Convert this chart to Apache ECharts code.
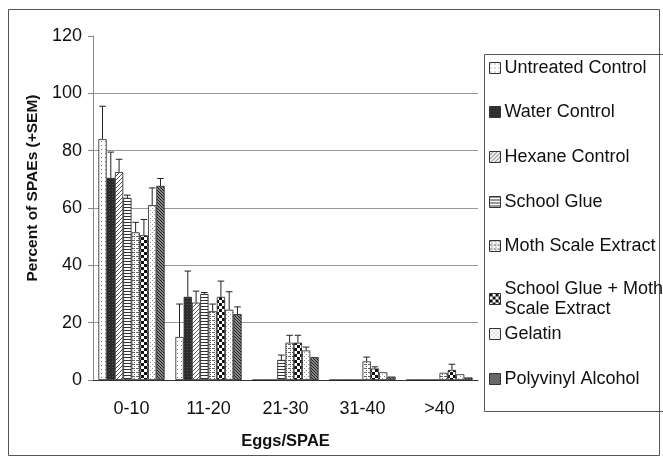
<!DOCTYPE html>
<html>
<head>
<meta charset="utf-8">
<script src="https://cdn.jsdelivr.net/npm/echarts@6/dist/echarts.min.js"></script>
<style>
html, body { margin: 0; padding: 0; background: #fff; }
#main { width: 663px; height: 458px; }
</style>
</head>
<body>
<div id="main"></div>
<script>
var categories = ['0-10', '11-20', '21-30', '31-40', '>40'];
var seriesNames = ['Untreated Control', 'Water Control', 'Hexane Control', 'School Glue',
	'Moth Scale Extract', 'School Glue + Moth\nScale Extract', 'Gelatin', 'Polyvinyl Alcohol'];

// percent of SPAEs per egg class
var untreated = [84, 15, 0, 0, 0];
var water = [70.5, 29, 0, 0, 0];
var hexane = [72.5, 27, 0, 0, 0];
var schoolGlue = [63.5, 30, 7, 0, 0];
var mothScale = [51.5, 24, 13, 6.5, 2.5];
var glueMoth = [50.5, 29, 13, 4, 3.5];
var gelatin = [61, 24.5, 10.3, 2.7, 2];
var pva = [67.7, 23, 8, 1.2, 0.9];

// +SEM
var untreatedErr = [11.5, 11.5, 0, 0, 0];
var waterErr = [9, 9, 0, 0, 0];
var hexaneErr = [4.5, 4, 0, 0, 0];
var schoolGlueErr = [1, 0.5, 1.7, 0, 0];
var mothScaleErr = [3.5, 2.5, 2.6, 1.5, 0];
var glueMothErr = [5.5, 5.5, 2.6, 0.6, 2];
var gelatinErr = [6, 6.3, 1.2, 0, 0];
var pvaErr = [2.6, 2.5, 0, 0, 0];

var values = [untreated, water, hexane, schoolGlue, mothScale, glueMoth, gelatin, pva];
var errors = [untreatedErr, waterErr, hexaneErr, schoolGlueErr, mothScaleErr, glueMothErr, gelatinErr, pvaErr];

var GAP = 0.14;
var FONT = '"Liberation Sans", Arial, sans-serif';

function makePattern(w, h, bg, draw) {
	var c = document.createElement('canvas');
	c.width = w;
	c.height = h;
	var ctx = c.getContext('2d');
	ctx.fillStyle = bg;
	ctx.fillRect(0, 0, w, h);
	draw(ctx);
	return { image: c, repeat: 'repeat' };
}

var patterns = [
	makePattern(4, 4, '#fff', function(ctx) {
		ctx.fillStyle = '#777';
		ctx.fillRect(1, 1, 1, 1);
	}),
	makePattern(3, 3, '#2b2b2b', function(ctx) {
		ctx.fillStyle = '#555';
		ctx.fillRect(1, 1, 1, 1);
	}),
	makePattern(4, 4, '#fff', function(ctx) {
		ctx.fillStyle = '#555';
		for (var i = 0; i < 4; i++) {
			ctx.fillRect(i, 3 - i, 1, 1);
		}
	}),
	makePattern(3, 3, '#fff', function(ctx) {
		ctx.fillStyle = '#333';
		ctx.fillRect(0, 0, 3, 1);
	}),
	makePattern(4, 4, '#fff', function(ctx) {
		ctx.fillStyle = '#666';
		ctx.fillRect(0, 0, 3, 1);
		ctx.fillRect(2, 2, 1, 1);
	}),
	makePattern(6, 6, '#fff', function(ctx) {
		ctx.fillStyle = '#111';
		ctx.fillRect(0, 0, 3, 3);
		ctx.fillRect(3, 3, 3, 3);
	}),
	makePattern(4, 4, '#fff', function(ctx) {
		ctx.fillStyle = '#999';
		ctx.fillRect(0, 0, 1, 1);
		ctx.fillRect(2, 2, 1, 1);
	}),
	makePattern(3, 3, '#8a8a8a', function(ctx) {
		ctx.fillStyle = '#222';
		for (var i = 0; i < 3; i++) {
			ctx.fillRect(i, i, 1, 1);
		}
	})
];

var series = [];
var errData = [];
for (var s = 0; s < seriesNames.length; s++) {
	series.push({
		name: seriesNames[s],
		type: 'bar',
		barGap: 0,
		barCategoryGap: (GAP * 100) + '%',
		itemStyle: { color: patterns[s], borderColor: '#222', borderWidth: 0.8 },
		data: values[s]
	});
	for (var k = 0; k < categories.length; k++) {
		if (errors[s][k] > 0) {
			errData.push([k, values[s][k], errors[s][k], s]);
		}
	}
}

series.push({
	name: 'SEM',
	type: 'custom',
	z: 5,
	silent: true,
	data: errData,
	renderItem: function(params, api) {
		var ci = api.value(0);
		var v = api.value(1);
		var e = api.value(2);
		var si = api.value(3);
		var bandW = api.size([1, 0])[0];
		var barW = bandW * (1 - GAP) / 8;
		var base = api.coord([ci, v]);
		var top = api.coord([ci, v + e]);
		var x = base[0] + (si - 3.5) * barW;
		var st = { stroke: '#222', lineWidth: 1 };
		return {
			type: 'group',
			children: [
				{ type: 'line', shape: { x1: x, y1: base[1], x2: x, y2: top[1] }, style: st },
				{ type: 'line', shape: { x1: x - barW * 0.4, y1: top[1], x2: x + barW * 0.4, y2: top[1] }, style: st }
			]
		};
	}
});

// legend items placed one by one, like the original box
var legendTops = [58, 102, 147, 192, 236, 279, 324, 369];
var legends = [];
for (var n = 0; n < seriesNames.length; n++) {
	legends.push({
		data: [seriesNames[n]],
		left: 489,
		top: legendTops[n],
		padding: 0,
		icon: 'rect',
		itemWidth: 11,
		itemHeight: 11,
		selectedMode: false,
		itemStyle: { borderColor: '#333', borderWidth: 1 },
		textStyle: { fontFamily: FONT, fontSize: 18, color: '#111', lineHeight: 20, padding: [0, 0, 0, -1] }
	});
}

var myChart = echarts.init(document.getElementById('main'));
var option = {
	backgroundColor: '#fff',
	animation: false,
	textStyle: { fontFamily: FONT },
	graphic: [
		{ type: 'rect', shape: { x: 8.5, y: 9.5, width: 651, height: 446 }, style: { fill: 'none', stroke: '#555', lineWidth: 1 } },
		{ type: 'rect', shape: { x: 484.5, y: 54.5, width: 200, height: 357 }, style: { fill: 'none', stroke: '#555', lineWidth: 1 } }
	],
	legend: legends,
	grid: {
		left: 93,
		right: 185,
		top: 36,
		bottom: 78
	},
	xAxis: {
		type: 'category',
		data: categories,
		name: 'Eggs/SPAE',
		nameLocation: 'middle',
		nameGap: 53,
		nameTextStyle: { fontFamily: FONT, fontSize: 16.5, fontWeight: 'bold', color: '#111' },
		axisLine: { lineStyle: { color: '#333', width: 1 } },
		axisTick: { length: 4, lineStyle: { color: '#333' } },
		axisLabel: { fontFamily: FONT, fontSize: 18, color: '#111', margin: 20 }
	},
	yAxis: {
		type: 'value',
		min: 0,
		max: 120,
		interval: 20,
		name: 'Percent of SPAEs (+SEM)',
		nameLocation: 'middle',
		nameGap: 46,
		nameTextStyle: { fontFamily: FONT, fontSize: 15.5, fontWeight: 'bold', color: '#111', padding: [0, 0, 0, 40] },
		axisLine: { show: true, lineStyle: { color: '#888', width: 1 } },
		axisTick: { show: true, length: 5, lineStyle: { color: '#888' } },
		axisLabel: { fontFamily: FONT, fontSize: 18, color: '#111', margin: 11 },
		splitLine: { lineStyle: { color: ['#999', '#999', '#999', '#999', '#999', '#999', 'rgba(0,0,0,0)'], width: 1 } }
	},
	series: series
};
myChart.setOption(option);
</script>
</body>
</html>
